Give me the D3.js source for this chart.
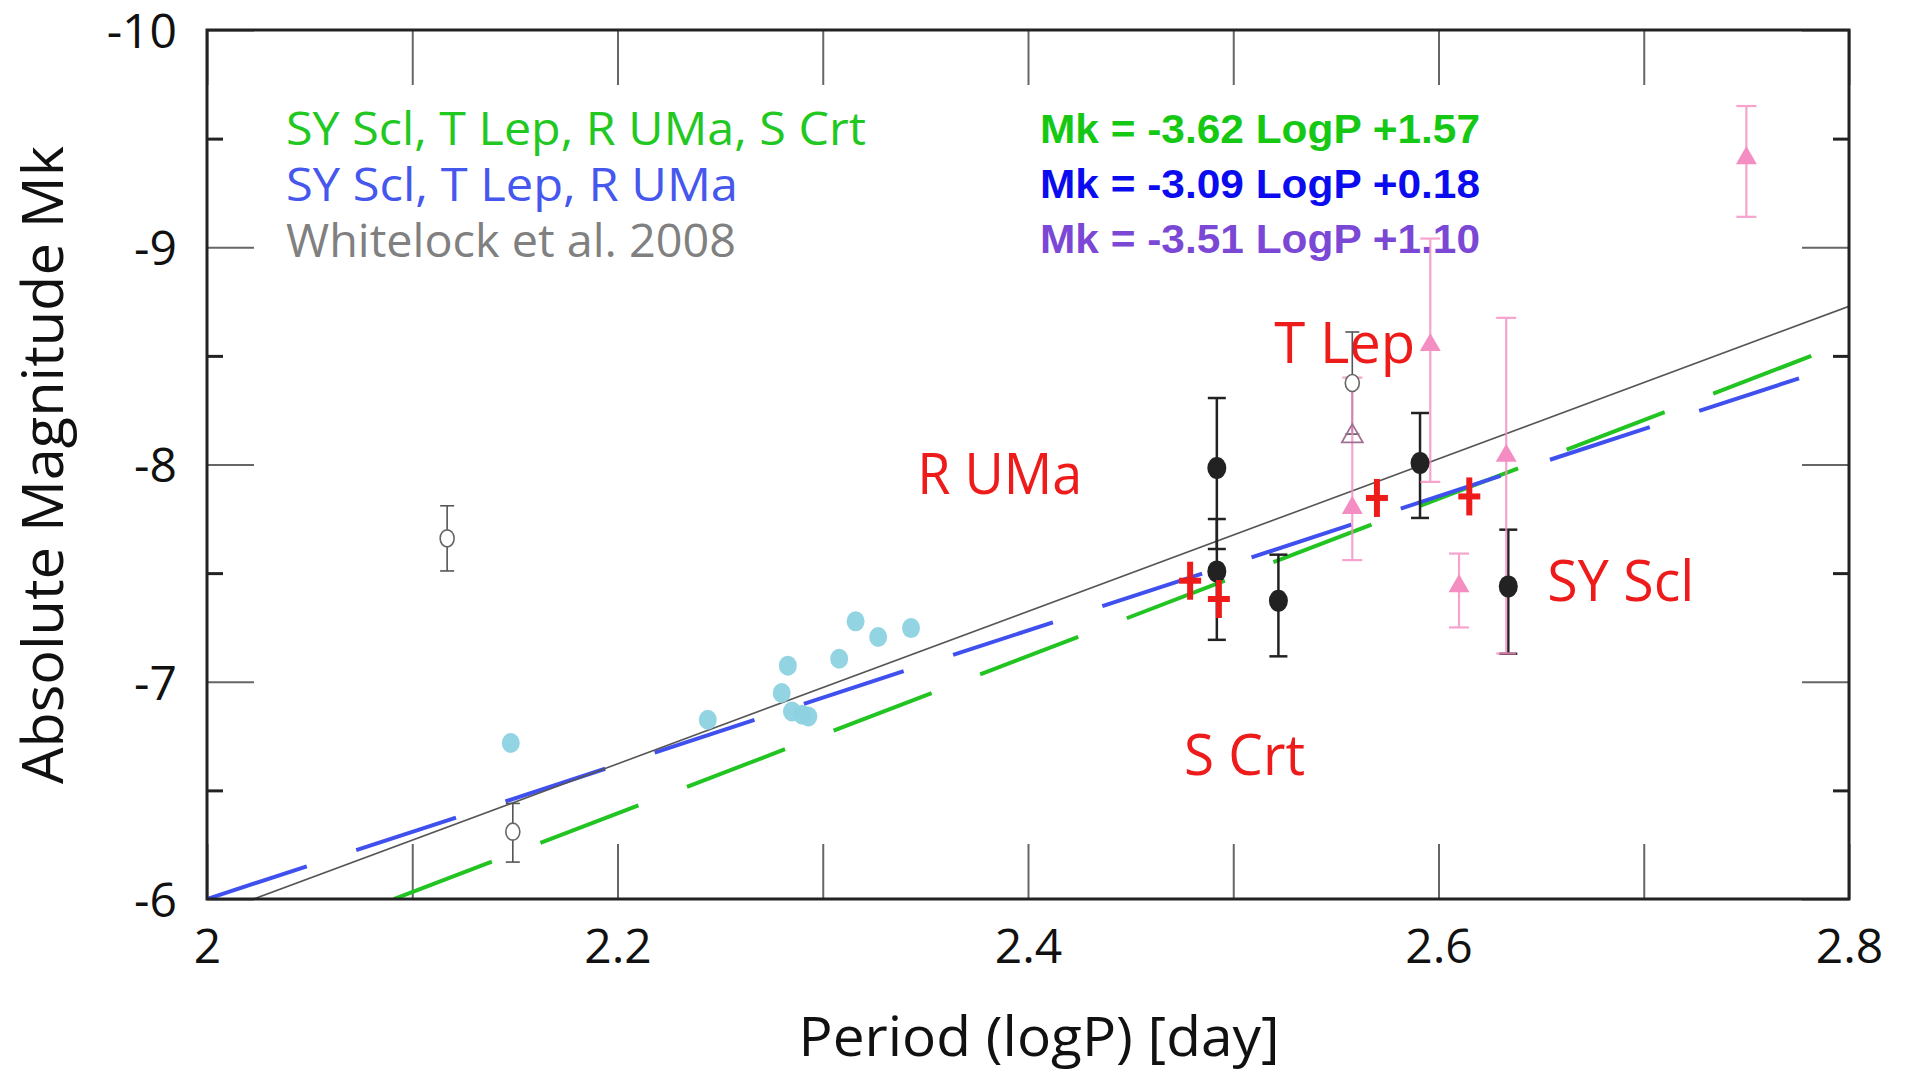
<!DOCTYPE html>
<html>
<head>
<meta charset="utf-8">
<script src="https://cdn.jsdelivr.net/npm/d3@7"></script>
<style>
  body { margin: 0; background: #fff; }
  text { font-family: "Open Sans", "Noto Sans", sans-serif; }
</style>
</head>
<body>
<div id="scatter"></div>
<script>
// ---- data ----
// x ticks (logP) and y ticks (Mk)
var xTicks = [2.0, 2.1, 2.2, 2.3, 2.4, 2.5, 2.6, 2.7, 2.8];
var xTickLabels = ["2", "", "2.2", "", "2.4", "", "2.6", "", "2.8"];
var yMajorTicks = [-10, -9, -8, -7, -6];
var yTickLabels = ["-10", "-9", "-8", "-7", "-6"];
var yMinorTicks = [-9.5, -8.5, -7.5, -6.5];

// fitted relations, from the equations printed on the chart
var fitNames = ["all four", "three stars", "Whitelock et al. 2008"];
var fitSlopes = [-3.62, -3.09, -3.51];
var fitIntercepts = [1.57, 0.18, 1.10];
var fitStart = [2.091, 2.0, 2.023];
var fitEnd = [2.784, 2.780, 2.8];

// light blue dots
var cyanLogP = [2.148, 2.244, 2.280, 2.285, 2.290, 2.293, 2.283, 2.308, 2.316, 2.327, 2.343];
var cyanMk = [-6.718, -6.825, -6.948, -6.863, -6.848, -6.840, -7.074, -7.106, -7.278, -7.206, -7.247];

// open gray circles with error bars
var openLogP = [2.117, 2.149, 2.558];
var openMk = [-7.66, -6.31, -8.375];
var openErrUp = [-7.81, -6.44, -8.61];
var openErrDown = [-7.51, -6.17, -8.14];

// open triangle
var openTriLogP = [2.558];
var openTriMk = [-8.13];

// black filled circles with error bars
var blackLogP = [2.492, 2.492, 2.522, 2.591, 2.634];
var blackMk = [-7.984, -7.508, -7.373, -8.007, -7.439];
var blackErrUp = [-8.306, -7.749, -7.585, -8.237, -7.70];
var blackErrDown = [-7.611, -7.193, -7.117, -7.754, -7.129];

// pink triangles with error bars
var pinkLogP = [2.558, 2.596, 2.610, 2.633, 2.750];
var pinkMk = [-7.80, -8.55, -7.44, -8.04, -9.41];
var pinkErrUp = [-8.40, -9.04, -7.59, -8.675, -9.65];
var pinkErrDown = [-7.56, -7.92, -7.25, -7.13, -9.14];

// red crosses
var crossLogP = [2.479, 2.493, 2.570, 2.615];
var crossMk = [-7.465, -7.381, -7.846, -7.853];

// text
var legendTexts = ["SY Scl, T Lep, R UMa, S Crt", "SY Scl, T Lep, R UMa", "Whitelock et al. 2008"];
var equationTexts = ["Mk = -3.62 LogP +1.57", "Mk = -3.09 LogP +0.18", "Mk = -3.51 LogP +1.10"];
var starNames = ["R UMa", "T Lep", "S Crt", "SY Scl"];
var starLabelLogP = [2.346, 2.520, 2.476, 2.653];
var starLabelMk = [-7.862, -8.469, -6.572, -7.370];

// ---- layout ----
var svgWidth = 1905;
var svgHeight = 1075;
var margin = { top: 30, right: 56, bottom: 176, left: 207 };
var width = svgWidth - margin.left - margin.right;
var height = svgHeight - margin.top - margin.bottom;

var svg = d3.select("#scatter")
  .append("svg")
  .attr("width", svgWidth)
  .attr("height", svgHeight);

svg.append("rect")
  .attr("width", svgWidth)
  .attr("height", svgHeight)
  .attr("fill", "#fff");

var chartGroup = svg.append("g")
  .attr("transform", `translate(${margin.left}, ${margin.top})`);

var xScale = d3.scaleLinear().domain([2, 2.8]).range([0, width]);
var yScale = d3.scaleLinear().domain([-10, -6]).range([0, height]);

chartGroup.append("clipPath")
  .attr("id", "plotClip")
  .append("rect")
  .attr("width", width)
  .attr("height", height);

// ---- axes (ticks pointing inward) ----
var xBottom = chartGroup.append("g")
  .attr("transform", `translate(0, ${height})`)
  .call(d3.axisBottom(xScale).tickValues(xTicks).tickSize(-55).tickPadding(30)
    .tickFormat((d, i) => xTickLabels[i]));

chartGroup.append("g")
  .call(d3.axisTop(xScale).tickValues(xTicks).tickSize(-55).tickFormat(""));

var yLeft = chartGroup.append("g")
  .call(d3.axisLeft(yScale).tickValues(yMajorTicks).tickSize(-47).tickPadding(30)
    .tickFormat((d, i) => yTickLabels[i]));

chartGroup.append("g")
  .attr("class", "minor")
  .call(d3.axisLeft(yScale).tickValues(yMinorTicks).tickSize(-16).tickFormat(""));

chartGroup.append("g")
  .attr("transform", `translate(${width}, 0)`)
  .call(d3.axisRight(yScale).tickValues(yMajorTicks).tickSize(-47).tickFormat(""));

chartGroup.append("g")
  .attr("class", "minor")
  .attr("transform", `translate(${width}, 0)`)
  .call(d3.axisRight(yScale).tickValues(yMinorTicks).tickSize(-16).tickFormat(""));

chartGroup.selectAll(".domain").remove();
chartGroup.selectAll(".tick line").attr("stroke", "#666").attr("stroke-width", 2);
chartGroup.selectAll(".minor .tick line").attr("stroke", "#222").attr("stroke-width", 3);
chartGroup.selectAll(".tick text")
  .attr("fill", "#111")
  .style("font-size", "48px")
  .style("font-family", "'Open Sans', sans-serif");
xBottom.selectAll(".tick text").attr("dy", "0.71em");
yLeft.selectAll(".tick text").attr("dy", "0.36em");

// ---- legend and equations ----
var legendColors = ["#22c822", "#4657ee", "#808080"];
var legendWidths = [580, 452, 450];
chartGroup.selectAll("text.legend")
  .data(legendTexts)
  .enter()
  .append("text")
  .attr("class", "legend")
  .attr("x", 79)
  .attr("y", (d, i) => 115 + i * 56)
  .attr("fill", (d, i) => legendColors[i])
  .attr("textLength", (d, i) => legendWidths[i])
  .attr("lengthAdjust", "spacingAndGlyphs")
  .style("font-size", "46px")
  .text(d => d);

var eqColors = ["#14c814", "#0b0bf0", "#7b47d5"];
chartGroup.selectAll("text.eq")
  .data(equationTexts)
  .enter()
  .append("text")
  .attr("class", "eq")
  .attr("x", 833)
  .attr("y", (d, i) => 113 + i * 55)
  .attr("fill", (d, i) => eqColors[i])
  .attr("textLength", 440)
  .attr("lengthAdjust", "spacingAndGlyphs")
  .style("font-family", "'Liberation Sans Narrow', 'Liberation Sans', Arial, sans-serif")
  .style("font-weight", "bold")
  .style("font-size", "41px")
  .text(d => d);

// star names in red
var starWidths = [165, 141, 121, 147];
chartGroup.selectAll("text.star")
  .data(starNames)
  .enter()
  .append("text")
  .attr("class", "star")
  .attr("x", (d, i) => xScale(starLabelLogP[i]))
  .attr("y", (d, i) => yScale(starLabelMk[i]))
  .attr("fill", "#ee1b1b")
  .attr("textLength", (d, i) => starWidths[i])
  .attr("lengthAdjust", "spacingAndGlyphs")
  .style("font-size", "56px")
  .text(d => d);

// ---- fitted lines ----
var plot = chartGroup.append("g").attr("clip-path", "url(#plotClip)");
var fitColors = ["#22c422", "#3f50ee", "#555"];
var fitWidths = [4, 4, 1.6];
var fitDash = ["105,52", "105,52", null];

fitNames.forEach(function (name, i) {
  var pts = [fitStart[i], fitEnd[i]].map(p => [p, fitSlopes[i] * p + fitIntercepts[i]]);
  plot.append("path")
    .attr("d", d3.line().x(d => xScale(d[0])).y(d => yScale(d[1]))(pts))
    .attr("fill", "none")
    .attr("stroke", fitColors[i])
    .attr("stroke-width", fitWidths[i])
    .attr("stroke-dasharray", fitDash[i]);
});
// draw Whitelock on top of the dashes
plot.selectAll("path").filter((d, i) => i === 2).raise();

// ---- error bars ----
function errorBars(logP, up, down, color, lw, cap, opacity) {
  var g = plot.append("g")
    .attr("stroke", color)
    .attr("stroke-width", lw)
    .attr("opacity", opacity);
  logP.forEach(function (p, i) {
    var x = xScale(p);
    g.append("line").attr("x1", x).attr("x2", x)
      .attr("y1", yScale(up[i])).attr("y2", yScale(down[i]));
    [up[i], down[i]].forEach(function (v) {
      g.append("line").attr("x1", x - cap / 2).attr("x2", x + cap / 2)
        .attr("y1", yScale(v)).attr("y2", yScale(v));
    });
  });
}

errorBars(openLogP, openErrUp, openErrDown, "#555", 1.6, 14, 1);
errorBars(blackLogP, blackErrUp, blackErrDown, "#222", 2.5, 18, 1);
errorBars(pinkLogP, pinkErrUp, pinkErrDown, "#f48dc2", 2.2, 20, 0.8);

// ---- markers ----
plot.selectAll("ellipse.cyan")
  .data(cyanLogP)
  .enter()
  .append("ellipse")
  .attr("class", "cyan")
  .attr("cx", d => xScale(d))
  .attr("cy", (d, i) => yScale(cyanMk[i]))
  .attr("rx", 9)
  .attr("ry", 10)
  .attr("fill", "#8dd2e2")
  .attr("opacity", 0.95);

plot.selectAll("ellipse.open")
  .data(openLogP)
  .enter()
  .append("ellipse")
  .attr("class", "open")
  .attr("cx", d => xScale(d))
  .attr("cy", (d, i) => yScale(openMk[i]))
  .attr("rx", 7)
  .attr("ry", 8.5)
  .attr("fill", "#fff")
  .attr("stroke", "#666")
  .attr("stroke-width", 1.6);

var triangle = d3.symbol().type(d3.symbolTriangle).size(190);

plot.selectAll("path.opentri")
  .data(openTriLogP)
  .enter()
  .append("path")
  .attr("class", "opentri")
  .attr("d", triangle)
  .attr("transform", (d, i) => `translate(${xScale(d)}, ${yScale(openTriMk[i])})`)
  .attr("fill", "none")
  .attr("stroke", "#a07090")
  .attr("stroke-width", 1.8);

plot.selectAll("path.pink")
  .data(pinkLogP)
  .enter()
  .append("path")
  .attr("class", "pink")
  .attr("d", triangle)
  .attr("transform", (d, i) => `translate(${xScale(d)}, ${yScale(pinkMk[i])})`)
  .attr("fill", "#f48dc2");

plot.selectAll("ellipse.black")
  .data(blackLogP)
  .enter()
  .append("ellipse")
  .attr("class", "black")
  .attr("cx", d => xScale(d))
  .attr("cy", (d, i) => yScale(blackMk[i]))
  .attr("rx", 9.5)
  .attr("ry", 11)
  .attr("fill", "#222");

// red crosses
var crossGroup = plot.append("g")
  .attr("stroke", "#ee1b1b")
  .attr("stroke-width", 6);
crossLogP.forEach(function (p, i) {
  var x = xScale(p), y = yScale(crossMk[i]);
  crossGroup.append("line").attr("x1", x).attr("x2", x).attr("y1", y - 19).attr("y2", y + 19);
  crossGroup.append("line").attr("x1", x - 11).attr("x2", x + 11).attr("y1", y).attr("y2", y);
});

// ---- frame ----
chartGroup.append("rect")
  .attr("width", width)
  .attr("height", height)
  .attr("fill", "none")
  .attr("stroke", "#222")
  .attr("stroke-width", 3);

// ---- axis titles ----
chartGroup.append("text")
  .attr("transform", "rotate(-90)")
  .attr("x", 0 - 435)
  .attr("y", 0 - margin.left + 63)
  .attr("text-anchor", "middle")
  .attr("fill", "#111")
  .attr("textLength", 638)
  .attr("lengthAdjust", "spacingAndGlyphs")
  .style("font-size", "56px")
  .text("Absolute Magnitude Mk");

chartGroup.append("text")
  .attr("x", 1039 - margin.left)
  .attr("y", 1056 - margin.top)
  .attr("text-anchor", "middle")
  .attr("fill", "#111")
  .attr("textLength", 481)
  .attr("lengthAdjust", "spacingAndGlyphs")
  .style("font-size", "54px")
  .text("Period (logP) [day]");
</script>
</body>
</html>
